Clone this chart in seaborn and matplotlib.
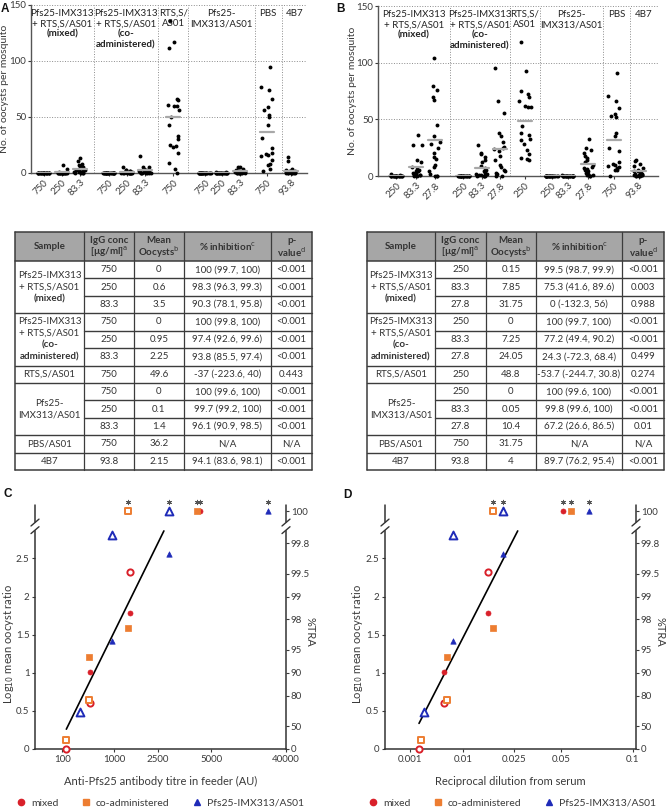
import numpy as np
import pandas as pd
import matplotlib
matplotlib.use('Agg')
import matplotlib.pyplot as plt
from matplotlib.patches import Rectangle
from matplotlib.lines import Line2D
import matplotlib.transforms as mtrans
import seaborn as sns

sns.set_style('ticks')
plt.rcParams['font.family'] = ['Lato', 'DejaVu Sans']
plt.rcParams['font.size'] = 7.5
plt.rcParams['mathtext.fontset'] = 'dejavusans'

W, H = 669, 811
RED, ORANGE, BLUE = '#d9202a', '#ed7d31', '#1f2bb8'
GRID = '#8c8c8c'
TXT = '#3a3a3a'

# ---------------- oocyst counts per mosquito ----------------
ALL_ZERO = [0, 0, 0, 0, 0, 0, 0, 0, 0, 0, 0, 0, 0, 0, 0, 0, 0, 0, 0, 0]

a_doses = ['750', '250', '83.3', '750', '250', '83.3', '750', '750', '250', '83.3', '750', '93.8']
a_counts = [
    ALL_ZERO,
    [7, 4, 1, 0, 0, 0, 0, 0, 0, 0, 0, 0, 0, 0, 0, 0, 0, 0, 0, 0],
    [13, 11, 8, 7, 6, 5, 4, 3, 3, 2, 2, 2, 1, 1, 1, 1, 0, 0, 0, 0],
    ALL_ZERO,
    [5, 3, 3, 2, 2, 1, 1, 1, 1, 0, 0, 0, 0, 0, 0, 0, 0, 0, 0, 0],
    [15, 5, 5, 4, 3, 3, 2, 2, 2, 1, 1, 1, 1, 0, 0, 0, 0, 0, 0, 0],
    [136, 117, 112, 66, 65, 61, 60, 60, 56, 50, 43, 33, 30, 25, 23, 24, 18, 9, 4, 0],
    ALL_ZERO,
    [1, 1, 0, 0, 0, 0, 0, 0, 0, 0, 0, 0, 0, 0, 0, 0, 0, 0, 0, 0],
    [5, 5, 4, 3, 2, 2, 2, 1, 1, 1, 1, 1, 0, 0, 0, 0, 0, 0, 0, 0],
    [95, 77, 74, 66, 59, 56, 52, 50, 43, 31, 22, 18, 17, 16, 15, 12, 8, 7, 4, 2],
    [14, 11, 4, 3, 2, 2, 2, 1, 1, 1, 1, 1, 0, 0, 0, 0, 0, 0, 0, 0],
]

b_doses = ['250', '83.3', '27.8', '250', '83.3', '27.8', '250', '250', '83.3', '27.8', '750', '93.8']
b_counts = [
    [2, 1, 0, 0, 0, 0, 0, 0, 0, 0, 0, 0, 0, 0, 0, 0, 0, 0, 0, 0],
    [36, 27, 27, 14, 12, 8, 6, 5, 4, 4, 3, 3, 2, 2, 1, 1, 1, 1, 0, 0],
    [104, 79, 76, 70, 67, 45, 35, 30, 28, 25, 20, 17, 15, 10, 8, 4, 2, 0, 0, 0],
    ALL_ZERO,
    [27, 20, 19, 17, 14, 12, 9, 7, 5, 4, 3, 2, 2, 2, 1, 1, 0, 0, 0, 0],
    [95, 66, 56, 38, 35, 30, 26, 25, 24, 22, 18, 14, 10, 8, 5, 4, 3, 2, 0, 0],
    [118, 93, 75, 72, 70, 66, 62, 61, 61, 44, 38, 36, 33, 32, 28, 23, 19, 16, 15, 14],
    ALL_ZERO,
    [1, 0, 0, 0, 0, 0, 0, 0, 0, 0, 0, 0, 0, 0, 0, 0, 0, 0, 0, 0],
    [33, 25, 23, 20, 18, 16, 14, 12, 10, 8, 7, 6, 5, 4, 3, 2, 1, 1, 0, 0],
    [91, 71, 66, 60, 55, 53, 52, 38, 35, 25, 22, 12, 11, 10, 9, 8, 7, 5, 5, 0],
    [14, 13, 11, 9, 7, 5, 4, 4, 3, 2, 2, 2, 1, 1, 1, 1, 0, 0, 0, 0],
]

sections = [
    (['Pfs25-IMX313', '+ RTS,S/AS01'], ['(mixed)']),
    (['Pfs25-IMX313', '+ RTS,S/AS01'], ['(co-', 'administered)']),
    (['RTS,S/', 'AS01'], []),
    (['Pfs25-', 'IMX313/AS01'], []),
    (['PBS'], []),
    (['4B7'], []),
]

# ---------------- table values ----------------
a_means = [0, 0.6, 3.5, 0, 0.95, 2.25, 49.6, 0, 0.1, 1.4, 36.2, 2.15]
a_inhib = ['100 (99.7, 100)', '98.3 (96.3, 99.3)', '90.3 (78.1, 95.8)',
           '100 (99.8, 100)', '97.4 (92.6, 99.6)', '93.8 (85.5, 97.4)',
           '-37 (-223.6, 40)',
           '100 (99.6, 100)', '99.7 (99.2, 100)', '96.1 (90.9, 98.5)',
           'N/A', '94.1 (83.6, 98.1)']
a_pval = ['<0.001', '<0.001', '<0.001', '<0.001', '<0.001', '<0.001', '0.443',
          '<0.001', '<0.001', '<0.001', 'N/A', '<0.001']

b_means = [0.15, 7.85, 31.75, 0, 7.25, 24.05, 48.8, 0, 0.05, 10.4, 31.75, 4]
b_inhib = ['99.5 (98.7, 99.9)', '75.3 (41.6, 89.6)', '0 (-132.3, 56)',
           '100 (99.7, 100)', '77.2 (49.4, 90.2)', '24.3 (-72.3, 68.4)',
           '-53.7 (-244.7, 30.8)',
           '100 (99.6, 100)', '99.8 (99.6, 100)', '67.2 (26.6, 86.5)',
           'N/A', '89.7 (76.2, 95.4)']
b_pval = ['<0.001', '0.003', '0.988', '<0.001', '<0.001', '0.499', '0.274',
          '<0.001', '<0.001', '0.01', 'N/A', '<0.001']

table_header = [['Sample'], ['IgG conc', r'[µg/ml]$^{\mathrm{a}}$'], ['Mean', r'Oocysts$^{\mathrm{b}}$'],
                [r'% inhibition$^{\mathrm{c}}$'], ['p-', r'value$^{\mathrm{d}}$']]
table_samples = [
    ([('Pfs25-IMX313', 'normal'), ('+ RTS,S/AS01', 'normal'), ('(mixed)', 'bold')], 3),
    ([('Pfs25-IMX313', 'normal'), ('+ RTS,S/AS01', 'normal'), ('(co-', 'bold'), ('administered)', 'bold')], 3),
    ([('RTS,S/AS01', 'normal')], 1),
    ([('Pfs25-', 'normal'), ('IMX313/AS01', 'normal')], 3),
    ([('PBS/AS01', 'normal')], 1),
    ([('4B7', 'normal')], 1),
]

# ---------------- panels C / D ----------------
# dose order: 750, 250, 83.3, 27.8 ug/ml
titre_au = {'mixed': [4300, 1390, 340, 120], 'co': [4170, 1340, 330, 118], 'pfs': [24000, 2900, 930, 220]}
recip_dil = {'mixed': [0.0508, 0.0156, 0.00443, 0.00148], 'co': [0.055, 0.0171, 0.0050, 0.00159],
             'pfs': [0.0656, 0.0204, 0.00656, 0.00184]}
# mean oocysts in study A (750, 250, 83.3) and study B (250, 83.3, 27.8)
cd_mean_a = {'mixed': a_means[0:3], 'co': a_means[3:6], 'pfs': a_means[7:10]}
cd_mean_b = {'mixed': b_means[0:3], 'co': b_means[3:6], 'pfs': b_means[7:10]}
pbs_a, pbs_b = a_means[10], b_means[10]
fit_c_x, fit_c_y = [120, 2710], [0.26, 2.86]
fit_d_x, fit_d_y = [0.00148, 0.0264], [0.336, 2.86]
tra_levels = [0, 50, 80, 90, 95, 98, 99, 99.5, 99.8]
c_ticks, c_ticklabels = [100, 1000, 2500, 5000, 40000], ['100', '1000', '2500', '5000', '40000']
d_ticks, d_ticklabels = [0.001, 0.01, 0.025, 0.05, 0.1], ['0.001', '0.01', '0.025', '0.05', '0.1']

fig = plt.figure(figsize=(W / 100, H / 100), dpi=100)


def frect(x0, y0, x1, y1):
    return [x0 / W, 1 - y1 / H, (x1 - x0) / W, (y1 - y0) / H]


def dot_panel(rect, doses, counts, pos, dividers, xlim, label_x):
    ax = fig.add_axes(rect)
    df = pd.DataFrame({'pos': np.repeat(pos, [len(c) for c in counts]),
                       'count': np.concatenate(counts)})
    np.random.seed(7)
    sns.stripplot(data=df, x='pos', y='count', native_scale=True, jitter=0.36,
                  color='black', size=2.8, linewidth=0, ax=ax, zorder=3, clip_on=False)
    for p, c in zip(pos, counts):
        m = np.mean(c)
        ax.plot([p - 0.38, p + 0.38], [m, m], color='#a8a8a8', lw=1.6, zorder=4)
    for y in (50, 100, 150):
        ax.axhline(y, color=GRID, lw=0.7, ls=':', zorder=1)
    for d in dividers + [xlim[1]]:
        ax.axvline(d, color=GRID, lw=0.7, ls=':', zorder=1)
    ax.set_xlim(xlim)
    ax.set_ylim(0, 150)
    ax.set_xticks(pos)
    ax.set_xticklabels(doses, rotation=45, ha='right', rotation_mode='anchor')
    ax.set_yticks([0, 50, 100, 150])
    ax.tick_params(axis='both', length=2, width=0.8, colors=TXT, labelsize=7, pad=1.5)
    for s in ('left', 'bottom'):
        ax.spines[s].set_color('#555555')
        ax.spines[s].set_linewidth(1.0)
    sns.despine(ax=ax)
    ax.set_xlabel('')
    ax.set_ylabel('No. of oocysts per mosquito', fontsize=7.5, color=TXT, va='center')
    ax.yaxis.set_label_coords(label_x, 0.5)
    bounds = [xlim[0]] + dividers + [xlim[1]]
    for i, (normal, bold) in enumerate(sections):
        cx = (bounds[i] + bounds[i + 1]) / 2
        lines = [(t, 'normal') for t in normal] + [(t, 'bold') for t in bold]
        for k, (t, w) in enumerate(lines):
            ax.annotate(t, (cx, 1), xycoords=('data', 'axes fraction'), textcoords='offset points',
                        xytext=(0, -6 - 7.6 * k), ha='center', va='center', fontsize=7,
                        fontweight=w, color='#222222')
    return ax


dot_panel(frect(31, 5, 307, 173), a_doses, a_counts,
          [0, 1, 2, 3.55, 4.55, 5.55, 7.09, 8.82, 9.73, 10.73, 12.18, 13.5],
          [2.73, 6.27, 7.91, 11.55, 13.0], (-0.69, 14.39), -0.096)
dot_panel(frect(378, 6, 658, 176), b_doses, b_counts,
          [0, 1.09, 2.09, 3.64, 4.64, 5.64, 6.99, 8.45, 9.36, 10.45, 11.82, 13.18],
          [2.91, 6.18, 7.82, 11.27, 12.73], (-1.0, 14.24), -0.09)

# ---------------- tables (pixel overlay) ----------------
ov = fig.add_axes([0, 0, 1, 1])
ov.set_xlim(0, W)
ov.set_ylim(H, 0)
ov.axis('off')


def draw_table(xe, doses, means, inhib, pvals):
    top, hb, bot = 232, 261, 470
    n = len(doses)
    rh = (bot - hb) / n
    ov.add_patch(Rectangle((xe[0], top), xe[-1] - xe[0], hb - top, facecolor='#a6a6a6', edgecolor='none'))
    for j, lines in enumerate(table_header):
        cx = (xe[j] + xe[j + 1]) / 2
        cy = (top + hb) / 2
        for k, t in enumerate(lines):
            ov.text(cx, cy + (k - (len(lines) - 1) / 2) * 11.5, t, ha='center', va='center',
                    fontsize=7, fontweight='bold', color='#333333')
    # body cells
    for i in range(n):
        cy = hb + (i + 0.5) * rh
        vals = [doses[i], f'{means[i]:g}', inhib[i], pvals[i]]
        for j, v in enumerate(vals):
            ov.text((xe[j + 1] + xe[j + 2]) / 2, cy, v, ha='center', va='center', fontsize=7, color='#333333')
    # sample column
    r0 = 0
    group_edges = [0]
    for lines, span in table_samples:
        cy = hb + (r0 + span / 2) * rh
        for k, (t, w) in enumerate(lines):
            ov.text((xe[0] + xe[1]) / 2, cy + (k - (len(lines) - 1) / 2) * 11.6, t, ha='center',
                    va='center', fontsize=7, fontweight=w, color='#333333')
        r0 += span
        group_edges.append(r0)
    # grid lines
    lc = '#3c3c3c'
    ov.plot([xe[0], xe[-1]], [top, top], color=lc, lw=1.1)
    ov.plot([xe[0], xe[-1]], [hb, hb], color=lc, lw=1.1)
    for i in range(1, n + 1):
        y = hb + i * rh
        x0 = xe[0] if i in group_edges else xe[1]
        ov.plot([x0, xe[-1]], [y, y], color=lc, lw=1.0 if i < n else 1.1)
    for k, x in enumerate(xe):
        ov.plot([x, x], [top, bot], color=lc, lw=1.1 if k in (0, len(xe) - 1) else 0.9)


draw_table([15, 84, 134, 184, 271, 312], a_doses, a_means, a_inhib, a_pval)
draw_table([367, 435, 486, 536, 622, 664], b_doses, b_means, b_inhib, b_pval)

for letter, (x, y) in zip('ABCD', [(1, 3), (336, 3), (4, 488), (343, 489)]):
    ov.text(x, y, letter, ha='left', va='top', fontsize=8.5, fontweight='bold',
            family=['Liberation Sans', 'DejaVu Sans'], color='#111111')

# ---------------- C / D ----------------
TOP = 3.12


def piecewise_log(ticks, tick_px):
    lv = np.log10(np.asarray(ticks, dtype=float))
    px = np.asarray(tick_px, dtype=float)
    s0 = (px[1] - px[0]) / (lv[1] - lv[0])
    s1 = (px[-1] - px[-2]) / (lv[-1] - lv[-2])
    lv = np.concatenate([[lv[0] - 3], lv, [lv[-1] + 3]])
    px = np.concatenate([[px[0] - 3 * s0], px, [px[-1] + 3 * s1]])

    def fwd(x):
        return np.interp(np.log10(np.clip(np.asarray(x, dtype=float), 1e-12, None)), lv, px)

    def inv(p):
        return 10 ** np.interp(np.asarray(p, dtype=float), px, lv)
    return fwd, inv


def ratio_panel(rect, xdata, ticks, ticklabels, tick_px, xspan, fit_x, fit_y, xlabel, label_x):
    ax = fig.add_axes(rect)
    fwd, inv = piecewise_log(ticks, tick_px)
    ax.set_xscale('function', functions=(fwd, inv))
    ax.set_xlim(inv(xspan[0]), inv(xspan[1]))
    ax.set_ylim(0, 3.2)
    ax.plot(fit_x, fit_y, color='black', lw=1.2, zorder=2)
    styles = {'mixed': (RED, 'o', 13, 20), 'co': (ORANGE, 's', 13, 24), 'pfs': (BLUE, '^', 15, 32)}
    star_x = []
    for key, (col, mk, s_fill, s_open) in styles.items():
        for means, pbs, idx, filled in ((cd_mean_a[key], pbs_a, [0, 1, 2], True),
                                        (cd_mean_b[key], pbs_b, [1, 2, 3], False)):
            xs = [xdata[key][i] for i in idx]
            ys = [np.log10(pbs / m) if m > 0 else TOP for m in means]
            if filled:
                sns.scatterplot(x=xs, y=ys, marker=mk, s=s_fill, color=col, edgecolor=col,
                                linewidth=0.5, ax=ax, zorder=3, clip_on=False)
            else:
                sns.scatterplot(x=xs, y=ys, marker=mk, s=s_open, color='white', edgecolor=col,
                                linewidth=1.4, ax=ax, zorder=3, clip_on=False)
            star_x += [x for x, y in zip(xs, ys) if y == TOP]
    # asterisks above the complete-blocking (100 %) points
    ax.scatter(star_x, [TOP + 0.12] * len(star_x), marker=(6, 2, 0), s=10, linewidths=0.7,
               color='#555555', clip_on=False, zorder=3)
    ax.set_xticks(ticks)
    ax.set_xticklabels(ticklabels)
    ax.minorticks_off()
    ax.set_yticks([0, 0.5, 1, 1.5, 2, 2.5])
    ax.set_yticklabels(['0', '0.5', '1', '1.5', '2', '2.5'])
    ax.tick_params(axis='both', length=2.5, width=0.8, colors=TXT, labelsize=7, pad=1.5)
    ax.spines['top'].set_visible(False)
    ax.spines['right'].set_visible(False)
    ax.spines['left'].set_bounds(0, 2.86)
    for s in ('left', 'bottom'):
        ax.spines[s].set_linewidth(1.1)
        ax.spines[s].set_color('#333333')
    ax.set_xlabel(xlabel, fontsize=8, color=TXT, labelpad=9)
    ax.set_ylabel(r'Log$_{10}$ mean oocyst ratio', fontsize=8, color=TXT, va='center')
    ax.yaxis.set_label_coords(label_x, 0.43)

    ax2 = ax.twinx()
    ax2.set_ylim(0, 3.2)
    tra_y = [-np.log10(1 - p / 100) for p in tra_levels] + [TOP]
    ax2.set_yticks(tra_y)
    ax2.set_yticklabels([f'{p:g}' for p in tra_levels] + ['100'])
    ax2.tick_params(axis='y', length=2.5, width=0.8, colors=TXT, labelsize=7, pad=1)
    for s in ('top', 'left', 'bottom'):
        ax2.spines[s].set_visible(False)
    ax2.spines['right'].set_bounds(0, 2.86)
    ax2.spines['right'].set_linewidth(1.1)
    ax2.spines['right'].set_color('#333333')
    ax2.set_ylabel('%TRA', rotation=270, fontsize=8, color=TXT, va='center')
    ax2.yaxis.set_label_coords(1.095, 0.48)

    tr = mtrans.blended_transform_factory(ax.transAxes, ax.transData)
    dx = 4.0 / (rect[2] * W)
    for xa in (0, 1):
        ax.plot([xa, xa], [2.98, 3.2], color='#333333', lw=1.1, transform=tr, clip_on=False)
        for yb in (2.87, 2.97):
            ax.plot([xa - dx, xa + dx], [yb - 0.045, yb + 0.045], color='#333333', lw=1.0,
                    transform=tr, clip_on=False)
    return ax


ratio_panel(frect(35, 505, 286, 749), titre_au, c_ticks, c_ticklabels,
            [62.3, 114.3, 158, 211.7, 286.7], (35, 286.5), fit_c_x, fit_c_y,
            'Anti-Pfs25 antibody titre in feeder (AU)', -0.105)
ratio_panel(frect(385, 505, 636, 749), recip_dil, d_ticks, d_ticklabels,
            [410, 463, 514, 561, 633], (385, 636), fit_d_x, fit_d_y,
            'Reciprocal dilution from serum', -0.11)

handles = [Line2D([], [], ls='', marker='o', ms=4.5, color=RED),
           Line2D([], [], ls='', marker='s', ms=4.5, color=ORANGE),
           Line2D([], [], ls='', marker='^', ms=4.5, color=BLUE)]
labels = ['mixed', 'co-administered', 'Pfs25-IMX313/AS01']
for cx in (160 / W, 512 / W):
    fig.legend(handles, labels, loc='center', bbox_to_anchor=(cx, 1 - 803 / H), ncol=3,
               frameon=False, fontsize=7.5, handletextpad=0.4, columnspacing=2.2,
               handlelength=1.0, labelcolor=TXT)

fig.savefig('out.png', dpi=100)
